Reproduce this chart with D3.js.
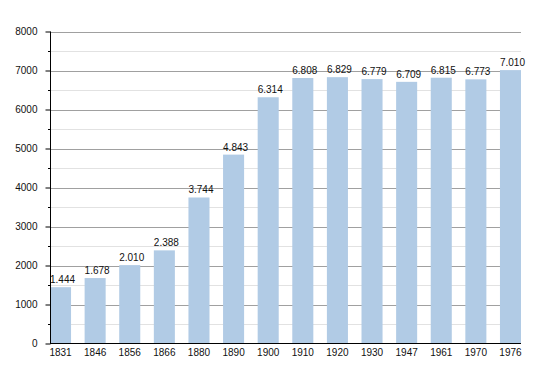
<!DOCTYPE html>
<html>
<head>
<meta charset="utf-8">
<script src="https://cdn.jsdelivr.net/npm/d3@7"></script>
<style>
body { margin: 0; background: #fff; }
text { font-family: "Liberation Sans", Arial, sans-serif; }
</style>
</head>
<body>
<div id="chart"></div>
<script>
var years = ["1831", "1846", "1856", "1866", "1880", "1890", "1900", "1910", "1920", "1930", "1947", "1961", "1970", "1976"];
var population = [1444, 1678, 2010, 2388, 3744, 4843, 6314, 6808, 6829, 6779, 6709, 6815, 6773, 7010];
var valueLabels = ["1.444", "1.678", "2.010", "2.388", "3.744", "4.843", "6.314", "6.808", "6.829", "6.779", "6.709", "6.815", "6.773", "7.010"];
var majorTicks = [0, 1000, 2000, 3000, 4000, 5000, 6000, 7000, 8000];
var minorTicks = [500, 1500, 2500, 3500, 4500, 5500, 6500, 7500];

var svg = d3.select("#chart")
    .append("svg")
    .attr("width", 550)
    .attr("height", 373);

var plotLeft = 50, plotRight = 521, plotTop = 31.5, plotBottom = 343.5;

var x = d3.scaleBand()
    .domain(years)
    .range([plotLeft, plotRight])
    .paddingInner(0.392)
    .paddingOuter(0);

var y = d3.scaleLinear()
    .domain([0, 8000])
    .range([plotBottom, plotTop]);

// minor grid
svg.append("g")
    .selectAll("line")
    .data(minorTicks)
    .enter()
    .append("line")
    .attr("x1", plotLeft)
    .attr("x2", plotRight)
    .attr("y1", d => Math.round(y(d)) + 0.5)
    .attr("y2", d => Math.round(y(d)) + 0.5)
    .attr("stroke", "#e2e2e2");

// major grid
svg.append("g")
    .selectAll("line")
    .data(majorTicks.slice(1))
    .enter()
    .append("line")
    .attr("x1", plotLeft)
    .attr("x2", plotRight)
    .attr("y1", d => Math.round(y(d)) + 0.5)
    .attr("y2", d => Math.round(y(d)) + 0.5)
    .attr("stroke", "#a0a0a0");

// bars
svg.append("g")
    .selectAll("rect")
    .data(population)
    .enter()
    .append("rect")
    .attr("x", (d, i) => x(years[i]))
    .attr("y", d => y(d))
    .attr("width", x.bandwidth())
    .attr("height", d => plotBottom - y(d))
    .attr("fill", "#b1cbe5");

// value labels
svg.append("g")
    .selectAll("text")
    .data(population)
    .enter()
    .append("text")
    .attr("x", (d, i) => x(years[i]) + x.bandwidth() / 2 + 2)
    .attr("y", d => y(d) - 4)
    .attr("text-anchor", "middle")
    .attr("font-size", "10px")
    .attr("fill", "#111")
    .text((d, i) => valueLabels[i]);

// y axis
var yAxis = d3.axisLeft(y)
    .tickValues(majorTicks)
    .tickSize(5)
    .tickPadding(8)
    .tickFormat(d3.format("d"));

var gy = svg.append("g")
    .attr("transform", "translate(" + (plotLeft + 0.5) + ",0)")
    .call(yAxis);
gy.selectAll("text").attr("font-size", "10px").attr("fill", "#111").attr("font-family", null);
gy.selectAll("line").attr("stroke", "#000");
gy.select(".domain").attr("d", "M0," + plotTop + "V" + plotBottom).attr("stroke", "#000");

svg.append("g")
    .selectAll("line")
    .data(minorTicks)
    .enter()
    .append("line")
    .attr("x1", plotLeft - 2)
    .attr("x2", plotLeft)
    .attr("y1", d => Math.round(y(d)) + 0.5)
    .attr("y2", d => Math.round(y(d)) + 0.5)
    .attr("stroke", "#000");

// x axis
var xAxis = d3.axisBottom(x)
    .tickSize(0)
    .tickPadding(5);

var gx = svg.append("g")
    .attr("transform", "translate(0," + plotBottom + ")")
    .call(xAxis);
gx.selectAll("text").attr("font-size", "10px").attr("fill", "#111").attr("font-family", null);
gx.select(".domain").attr("d", "M" + plotLeft + ",0H" + plotRight).attr("stroke", "#000");
</script>
</body>
</html>
